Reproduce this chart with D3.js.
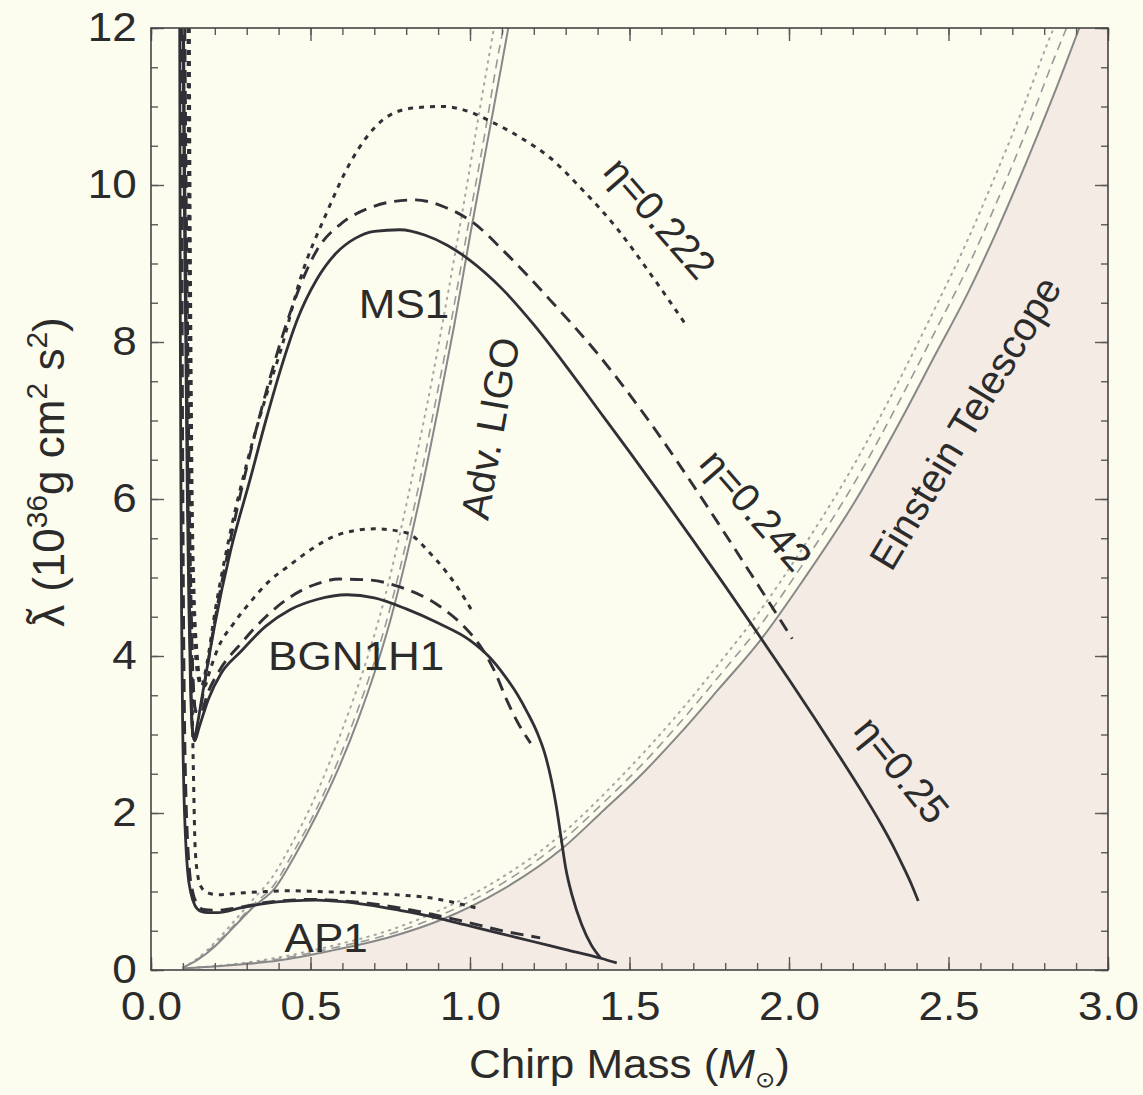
<!DOCTYPE html>
<html>
<head>
<meta charset="utf-8">
<script src="https://cdn.jsdelivr.net/npm/d3@7"></script>
<style>
  body { margin: 0; background: #fcfcef; }
  svg { display: block; }
  text { font-family: "Liberation Sans", Arial, Helvetica, sans-serif; fill: #2b2b2b; }
</style>
</head>
<body>
<svg id="chart" width="1143" height="1095"></svg>
<script>
// Tidal deformability vs chirp mass for three equations of state (MS1, BGN1H1, AP1)
// at three symmetric mass ratios, with Adv. LIGO and Einstein Telescope thresholds.

// ---- axis ticks ----
const xTicks = [0, 0.5, 1.0, 1.5, 2.0, 2.5, 3.0];
const xTickLabels = ["0.0", "0.5", "1.0", "1.5", "2.0", "2.5", "3.0"];
const yTicks = [0, 2, 4, 6, 8, 10, 12];
const yTickLabels = ["0", "2", "4", "6", "8", "10", "12"];

// ---- MS1 ----  [chirp mass, lambda]
const ms1_eta250 = [[0.100,12.0],[0.104,10.0],[0.109,8.0],[0.114,6.0],[0.119,4.6],[0.124,3.6],[0.130,3.05],[0.136,2.96],[0.145,3.12],[0.16,3.48],[0.18,3.95],[0.20,4.4],[0.25,5.35],[0.31,6.24],[0.36,7.0],[0.41,7.7],[0.46,8.3],[0.52,8.8],[0.58,9.13],[0.64,9.32],[0.70,9.41],[0.78,9.43],[0.86,9.36],[0.93,9.23],[1.00,9.04],[1.10,8.68],[1.20,8.22],[1.30,7.7],[1.40,7.15],[1.50,6.6],[1.60,6.04],[1.70,5.47],[1.80,4.89],[1.90,4.3],[2.00,3.7],[2.08,3.21],[2.16,2.71],[2.23,2.26],[2.29,1.85],[2.33,1.55],[2.36,1.3],[2.385,1.08],[2.405,0.88]];
const ms1_eta242 = [[0.104,12.0],[0.108,10.0],[0.113,8.0],[0.118,6.0],[0.124,4.6],[0.132,3.6],[0.140,3.3],[0.150,3.28],[0.17,3.7],[0.20,4.45],[0.25,5.5],[0.30,6.4],[0.36,7.35],[0.436,8.37],[0.52,9.17],[0.60,9.52],[0.68,9.70],[0.76,9.79],[0.83,9.81],[0.92,9.72],[1.00,9.55],[1.12,9.1],[1.25,8.54],[1.40,7.85],[1.56,7.0],[1.72,6.05],[1.88,5.05],[2.01,4.22]];
const ms1_eta222 = [[0.118,12.0],[0.120,10.0],[0.123,8.0],[0.127,6.0],[0.133,4.6],[0.145,3.8],[0.158,3.62],[0.175,3.9],[0.20,4.55],[0.25,5.6],[0.30,6.45],[0.36,7.3],[0.41,7.94],[0.467,8.79],[0.55,9.64],[0.624,10.28],[0.727,10.83],[0.82,10.98],[0.915,11.0],[1.00,10.93],[1.07,10.8],[1.16,10.6],[1.25,10.35],[1.35,9.95],[1.46,9.45],[1.56,8.9],[1.68,8.2]];

// ---- BGN1H1 ----
const bgn_eta250 = [[0.102,12.0],[0.106,10.0],[0.111,8.0],[0.116,6.0],[0.121,4.6],[0.126,3.5],[0.131,3.0],[0.137,2.92],[0.15,3.08],[0.18,3.45],[0.22,3.78],[0.28,4.05],[0.36,4.38],[0.436,4.59],[0.52,4.72],[0.614,4.78],[0.70,4.74],[0.80,4.6],[0.90,4.42],[1.00,4.2],[1.06,3.99],[1.11,3.74],[1.15,3.5],[1.18,3.28],[1.21,3.03],[1.235,2.75],[1.255,2.42],[1.27,2.1],[1.285,1.7],[1.30,1.3],[1.32,0.95],[1.35,0.58],[1.38,0.32],[1.41,0.15]];
const bgn_eta242 = [[0.106,12.0],[0.110,10.0],[0.115,8.0],[0.120,6.0],[0.126,4.6],[0.133,3.6],[0.142,3.27],[0.154,3.27],[0.18,3.55],[0.22,3.85],[0.28,4.15],[0.36,4.5],[0.436,4.75],[0.52,4.92],[0.59,4.98],[0.68,4.97],[0.78,4.88],[0.906,4.63],[0.98,4.38],[1.04,4.08],[1.08,3.78],[1.115,3.44],[1.15,3.15],[1.19,2.89]];
const bgn_eta222 = [[0.120,12.0],[0.122,10.0],[0.125,8.0],[0.129,6.0],[0.135,4.8],[0.145,4.0],[0.156,3.65],[0.168,3.62],[0.185,3.82],[0.21,4.1],[0.26,4.42],[0.31,4.68],[0.37,4.95],[0.436,5.16],[0.51,5.38],[0.59,5.55],[0.70,5.62],[0.80,5.57],[0.875,5.31],[0.92,5.1],[0.96,4.88],[1.01,4.55]];

// ---- AP1 ----
const ap1_eta250 = [[0.090,12.0],[0.091,10.0],[0.092,8.0],[0.094,6.0],[0.096,4.5],[0.099,3.2],[0.103,2.3],[0.108,1.7],[0.115,1.25],[0.125,0.98],[0.138,0.82],[0.155,0.75],[0.18,0.73],[0.21,0.73],[0.28,0.79],[0.36,0.85],[0.44,0.88],[0.52,0.89],[0.60,0.87],[0.68,0.83],[0.78,0.76],[0.88,0.68],[0.98,0.58],[1.09,0.47],[1.20,0.36],[1.30,0.26],[1.41,0.15],[1.46,0.09]];
const ap1_eta242 = [[0.096,12.0],[0.097,10.0],[0.098,8.0],[0.100,6.0],[0.102,4.5],[0.105,3.2],[0.109,2.3],[0.114,1.7],[0.121,1.25],[0.131,0.99],[0.145,0.84],[0.165,0.77],[0.20,0.76],[0.28,0.8],[0.36,0.86],[0.44,0.89],[0.52,0.9],[0.60,0.88],[0.68,0.85],[0.78,0.79],[0.88,0.71],[0.98,0.62],[1.09,0.51],[1.22,0.41]];
const ap1_eta222 = [[0.116,12.0],[0.118,10.0],[0.120,8.0],[0.123,6.0],[0.126,4.5],[0.130,3.2],[0.134,2.3],[0.138,1.6],[0.145,1.25],[0.157,1.06],[0.18,0.98],[0.21,0.96],[0.28,0.98],[0.36,1.0],[0.44,1.01],[0.52,1.0],[0.60,0.99],[0.72,0.97],[0.80,0.95],[0.875,0.92],[0.95,0.86],[1.02,0.79]];

// ---- Adv. LIGO threshold ----
const ligo_eta250 = [[0.10,0.03],[0.15,0.14],[0.20,0.3],[0.26,0.55],[0.32,0.8],[0.39,1.05],[0.45,1.45],[0.52,1.98],[0.59,2.59],[0.65,3.2],[0.70,3.78],[0.75,4.45],[0.80,5.25],[0.85,6.15],[0.90,7.15],[0.95,8.2],[1.00,9.35],[1.05,10.45],[1.10,11.55],[1.12,12.0]];
const ligo_eta242 = [[0.10,0.03],[0.15,0.15],[0.20,0.32],[0.26,0.57],[0.32,0.83],[0.385,1.08],[0.445,1.49],[0.515,2.02],[0.585,2.65],[0.645,3.28],[0.695,3.86],[0.745,4.54],[0.795,5.36],[0.845,6.28],[0.895,7.3],[0.945,8.35],[0.995,9.5],[1.045,10.62],[1.095,11.8],[1.105,12.0]];
const ligo_eta222 = [[0.10,0.03],[0.15,0.16],[0.20,0.35],[0.26,0.62],[0.32,0.9],[0.38,1.18],[0.44,1.6],[0.505,2.12],[0.57,2.75],[0.63,3.4],[0.68,4.0],[0.73,4.7],[0.78,5.55],[0.83,6.5],[0.88,7.5],[0.93,8.6],[0.98,9.75],[1.03,10.95],[1.075,12.0]];

// ---- Einstein Telescope threshold ----
const et_eta250 = [[0.10,0.02],[0.25,0.06],[0.40,0.12],[0.57,0.25],[0.75,0.42],[0.91,0.64],[1.10,1.02],[1.29,1.55],[1.41,2.0],[1.54,2.5],[1.66,3.02],[1.78,3.58],[1.91,4.2],[2.05,5.0],[2.21,5.99],[2.35,7.0],[2.46,7.85],[2.56,8.62],[2.65,9.4],[2.74,10.25],[2.83,11.15],[2.91,12.0]];
const et_eta242 = [[0.10,0.02],[0.25,0.065],[0.40,0.14],[0.57,0.28],[0.75,0.46],[0.91,0.7],[1.10,1.1],[1.29,1.65],[1.41,2.1],[1.54,2.62],[1.66,3.16],[1.78,3.74],[1.91,4.39],[2.05,5.21],[2.21,6.24],[2.35,7.28],[2.46,8.15],[2.56,8.95],[2.65,9.77],[2.74,10.65],[2.83,11.6],[2.87,12.0]];
const et_eta222 = [[0.10,0.02],[0.25,0.07],[0.40,0.16],[0.57,0.31],[0.75,0.51],[0.91,0.77],[1.10,1.18],[1.29,1.74],[1.41,2.2],[1.54,2.75],[1.66,3.3],[1.78,3.9],[1.91,4.58],[2.05,5.42],[2.21,6.48],[2.35,7.55],[2.46,8.45],[2.56,9.3],[2.65,10.15],[2.74,11.05],[2.81,11.8],[2.83,12.0]];

// ---------------------------------------------------------------
const svg = d3.select("#chart");
const W = 1143, H = 1095;
const plot = { left: 151, right: 1108, top: 28, bottom: 970 };

const x = d3.scaleLinear().domain([0, 3]).range([plot.left, plot.right]);
const y = d3.scaleLinear().domain([0, 12]).range([plot.bottom, plot.top]);

svg.append("rect").attr("width", W).attr("height", H).attr("fill", "#fcfcef");

svg.append("clipPath").attr("id", "plotClip")
  .append("rect")
  .attr("x", plot.left).attr("y", plot.top)
  .attr("width", plot.right - plot.left).attr("height", plot.bottom - plot.top);

const body = svg.append("g").attr("clip-path", "url(#plotClip)");

// region below the Einstein Telescope curve
const etLast = et_eta250[et_eta250.length - 1];
const shade = d3.area()
  .x(d => x(d[0])).y0(y(0)).y1(d => y(d[1]))
  .curve(d3.curveMonotoneX);
body.append("path").attr("d", shade(et_eta250)).attr("fill", "#f3ebe4");
body.append("rect")
  .attr("x", x(etLast[0]) - 0.5).attr("y", y(12))
  .attr("width", x(3) - x(etLast[0]) + 1).attr("height", y(0) - y(12))
  .attr("fill", "#f3ebe4");

const line = d3.line().x(d => x(d[0])).y(d => y(d[1])).curve(d3.curveMonotoneX);

// detector thresholds
const detectorStyle = {
  "0.25":  { color: "#888888", width: 2.0, dash: null },
  "0.242": { color: "#999999", width: 1.6, dash: "9,6" },
  "0.222": { color: "#a6a6a6", width: 2.0, dash: "1.5,6" }
};
const detectorCurves = [
  { data: et_eta222, eta: "0.222" }, { data: et_eta242, eta: "0.242" }, { data: et_eta250, eta: "0.25" },
  { data: ligo_eta222, eta: "0.222" }, { data: ligo_eta242, eta: "0.242" }, { data: ligo_eta250, eta: "0.25" }
];
body.selectAll("path.det").data(detectorCurves).join("path")
  .attr("class", "det")
  .attr("d", d => line(d.data))
  .attr("fill", "none")
  .attr("stroke", d => detectorStyle[d.eta].color)
  .attr("stroke-width", d => detectorStyle[d.eta].width)
  .attr("stroke-dasharray", d => detectorStyle[d.eta].dash)
  .attr("stroke-linecap", d => d.eta === "0.222" ? "round" : "butt");

// equation-of-state curves
const eosStyle = {
  "0.25":  { width: 2.8, dash: null },
  "0.242": { width: 2.9, dash: "13,8" },
  "0.222": { width: 3.0, dash: "5,6" }
};
const eosCurves = [
  { data: ap1_eta222, eta: "0.222" }, { data: ap1_eta242, eta: "0.242" }, { data: ap1_eta250, eta: "0.25" },
  { data: bgn_eta222, eta: "0.222" }, { data: bgn_eta242, eta: "0.242" }, { data: bgn_eta250, eta: "0.25" },
  { data: ms1_eta222, eta: "0.222" }, { data: ms1_eta242, eta: "0.242" }, { data: ms1_eta250, eta: "0.25" }
];
body.selectAll("path.eos").data(eosCurves).join("path")
  .attr("class", "eos")
  .attr("d", d => line(d.data))
  .attr("fill", "none")
  .attr("stroke", "#303036")
  .attr("stroke-width", d => eosStyle[d.eta].width)
  .attr("stroke-dasharray", d => eosStyle[d.eta].dash)
  .attr("stroke-linejoin", "round");

// ---- curve labels ----
const stretch = "scale(1.1,1)";
function flatLabel(txt, mx, lam) {
  svg.append("text")
    .attr("transform", `translate(${x(mx)},${y(lam)}) ${stretch}`)
    .attr("text-anchor", "middle")
    .style("font-size", "40px")
    .text(txt);
}
flatLabel("MS1", 0.793, 8.31);
flatLabel("BGN1H1", 0.643, 3.82);
flatLabel("AP1", 0.549, 0.23);

function tiltLabel(txt, mx, lam, angle) {
  svg.append("text")
    .attr("transform", `translate(${x(mx)},${y(lam)}) rotate(${angle})`)
    .attr("text-anchor", "middle")
    .attr("dominant-baseline", "central")
    .style("font-size", "40px")
    .text(txt);
}
tiltLabel("Adv. LIGO", 1.063, 6.90, -80);
tiltLabel("Einstein Telescope", 2.552, 6.97, -59);
tiltLabel("\u03b7=0.222", 1.596, 9.58, 49);
tiltLabel("\u03b7=0.242", 1.897, 5.86, 49);
tiltLabel("\u03b7=0.25", 2.354, 2.55, 51);

// ---- frame and ticks ----
const tickColor = "#5a5a5a";
function styleAxis(g) {
  g.select(".domain").remove();
  g.selectAll(".tick line").attr("stroke", tickColor).attr("stroke-width", 1.4);
  g.selectAll(".tick text")
    .attr("fill", "#2b2b2b")
    .style("font-size", "40px")
    .style("font-family", "\"Liberation Sans\", Arial, Helvetica, sans-serif");
}
const xMinor = d3.range(0, 3.0001, 0.1);
const yMinor = d3.range(0, 12.0001, 0.5);

// bottom
svg.append("g").attr("transform", `translate(0,${plot.bottom})`)
  .call(d3.axisBottom(x).tickValues(xMinor).tickFormat("").tickSize(-7).tickSizeOuter(0)).call(styleAxis);
const gxb = svg.append("g").attr("transform", `translate(0,${plot.bottom})`)
  .call(d3.axisBottom(x).tickValues(xTicks).tickFormat((d, i) => xTickLabels[i])
    .tickSize(-13).tickSizeOuter(0).tickPadding(22)).call(styleAxis);
gxb.selectAll(".tick text").attr("transform", stretch);
// top
svg.append("g").attr("transform", `translate(0,${plot.top})`)
  .call(d3.axisTop(x).tickValues(xMinor).tickFormat("").tickSize(-7).tickSizeOuter(0)).call(styleAxis);
svg.append("g").attr("transform", `translate(0,${plot.top})`)
  .call(d3.axisTop(x).tickValues(xTicks).tickFormat("").tickSize(-13).tickSizeOuter(0)).call(styleAxis);
// left
svg.append("g").attr("transform", `translate(${plot.left},0)`)
  .call(d3.axisLeft(y).tickValues(yMinor).tickFormat("").tickSize(-7).tickSizeOuter(0)).call(styleAxis);
const gyl = svg.append("g").attr("transform", `translate(${plot.left},0)`)
  .call(d3.axisLeft(y).tickValues(yTicks).tickFormat((d, i) => yTickLabels[i])
    .tickSize(-13).tickSizeOuter(0).tickPadding(13)).call(styleAxis);
gyl.selectAll(".tick text").attr("transform", stretch);
// right
svg.append("g").attr("transform", `translate(${plot.right},0)`)
  .call(d3.axisRight(y).tickValues(yMinor).tickFormat("").tickSize(-7).tickSizeOuter(0)).call(styleAxis);
svg.append("g").attr("transform", `translate(${plot.right},0)`)
  .call(d3.axisRight(y).tickValues(yTicks).tickFormat("").tickSize(-13).tickSizeOuter(0)).call(styleAxis);

svg.append("rect")
  .attr("x", plot.left).attr("y", plot.top)
  .attr("width", plot.right - plot.left).attr("height", plot.bottom - plot.top)
  .attr("fill", "none").attr("stroke", "#444").attr("stroke-width", 1.6);

// ---- axis titles ----
const xt = svg.append("text")
  .attr("transform", `translate(${(plot.left + plot.right) / 2},1078) ${stretch}`)
  .attr("text-anchor", "middle")
  .style("font-size", "40px");
xt.append("tspan").text("Chirp Mass (");
xt.append("tspan").style("font-style", "italic").text("M");
xt.append("tspan").attr("dy", 9).style("font-size", "22px").style("font-family", "\"DejaVu Sans\", sans-serif").text("\u2299");
xt.append("tspan").attr("dy", -9).text(")");

// y title: lambda with a tilde set above it, then units with superscripts
const yt = svg.append("text")
  .attr("transform", `translate(64,472) rotate(-90)`)
  .attr("text-anchor", "middle")
  .style("font-size", "44px");
yt.append("tspan").text("\u03bb");
yt.append("tspan").attr("dx", -19).attr("dy", -6).text("\u02dc");
yt.append("tspan").attr("dx", 5).attr("dy", 6).text(" (10");
yt.append("tspan").attr("dy", -17).style("font-size", "30px").text("36");
yt.append("tspan").attr("dy", 17).text("g cm");
yt.append("tspan").attr("dy", -17).style("font-size", "30px").text("2");
yt.append("tspan").attr("dy", 17).text(" s");
yt.append("tspan").attr("dy", -17).style("font-size", "30px").text("2");
yt.append("tspan").attr("dy", 17).text(")");
</script>
</body>
</html>
